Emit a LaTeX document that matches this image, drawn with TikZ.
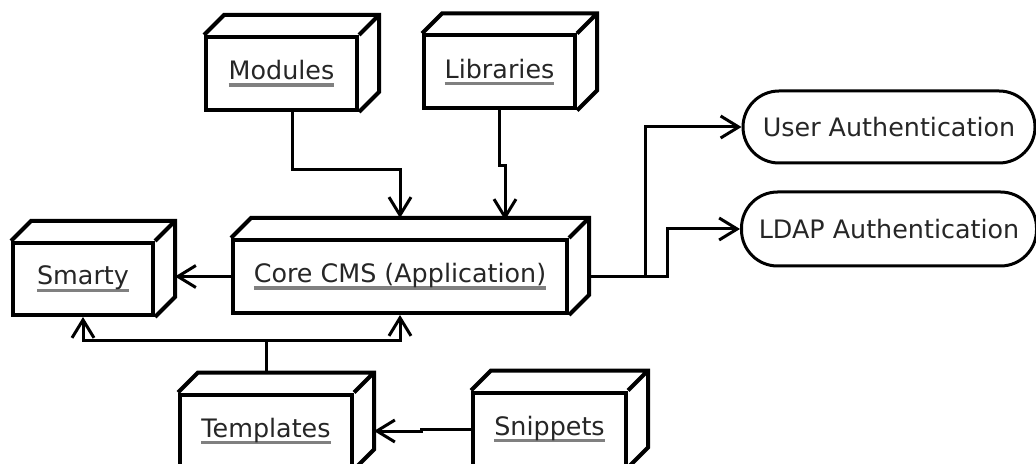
\documentclass[tikz,border=0pt]{standalone}
\usepackage{fontspec}
\setmainfont{DejaVu Sans}
\usepackage{xcolor}
\usetikzlibrary{positioning}
\usetikzlibrary{calc}
\usetikzlibrary{arrows.meta}
\newcommand{\uline}[1]{%
	\setbox0=\hbox{#1}%
	\rlap{\color{gray}\rule[-3.6pt]{\wd0}{1.7pt}}\box0}
\newcommand{\boxdepth}[1]{%
	\draw[line width=2pt] (#1.north west) -- ++(20,-20) -| ($(#1.south east)+(20,-20)$) -- (#1.south east)
		(#1.north east) -- ++(20,-20);}

\begin{document}
\begin{tikzpicture}[x=0.5pt, y=-0.5pt,
	nodeBox/.style={draw, line width=2pt, minimum height=36.5pt, inner sep=0pt, text=black!85, font=\fontsize{12.7}{15}\selectfont},
	roundBox/.style={draw, line width=1.5pt, rounded corners=18pt, minimum height=36.5pt, inner sep=0pt, text=black!85, font=\fontsize{12.7}{15}\selectfont},
	flow/.style={line width=1.5pt, -{Straight Barb[length=9pt, width=11pt, line width=1.5pt]}}]
	\useasboundingbox (0,0) rectangle (1036,464);
	\node[nodeBox, minimum width=75.5pt] (modules) at (281.5,73.5) {\uline{Modules}};
	\node[nodeBox, minimum width=75.5pt] (libraries) at (499.5,72) {\uline{Libraries}};
	\node[nodeBox, minimum width=167pt] (core) at (400,276.5) {\uline{Core CMS (Application)}};
	\node[nodeBox, minimum width=70pt, minimum height=36pt] (smarty) at (83,279) {\uline{Smarty}};
	\node[nodeBox, minimum width=86pt] (templates) at (266,431) {\uline{Templates}};
	\node[nodeBox, minimum width=76.5pt] (snippets) at (549.5,429) {\uline{Snippets}};
	\node[roundBox, minimum width=146pt, minimum height=36pt] (user) at (889,127) {User Authentication};
	\node[roundBox, minimum width=147.5pt, minimum height=37pt] (ldap) [below=13pt of user.south, anchor=north] {LDAP Authentication};
	\boxdepth{modules}
	\boxdepth{libraries}
	\boxdepth{core}
	\boxdepth{smarty}
	\boxdepth{templates}
	\boxdepth{snippets}
	% connectors
	\coordinate (libIn) at (505,220);
	\coordinate (tj) at ($(templates.north)+(0,-52)$);
	\draw[flow] ([xshift=5.25pt]modules.south) -- ++(0,58) -| ([yshift=10pt]core.north);
	\draw[flow] (libraries.south) -- ++(0,55) -| (libIn);
	\draw[flow] (core.west) -- ([xshift=10pt]smarty.east |- core.west);
	\draw[line width=1.5pt] ([yshift=10pt]templates.north) -- (tj);
	\draw[flow] (tj) -| (smarty.south);
	\draw[flow] (tj) -| (core.south);
	\draw[flow] (snippets.west) -- ++(-50,0) |- ([xshift=10pt]templates.east);
	\draw[flow] ([xshift=10pt]core.east) -- ++(56,0) |- (user.west);
	\draw[flow] ([xshift=10pt]core.east) -- ++(78,0) |- (ldap.west);
\end{tikzpicture}
\end{document}
